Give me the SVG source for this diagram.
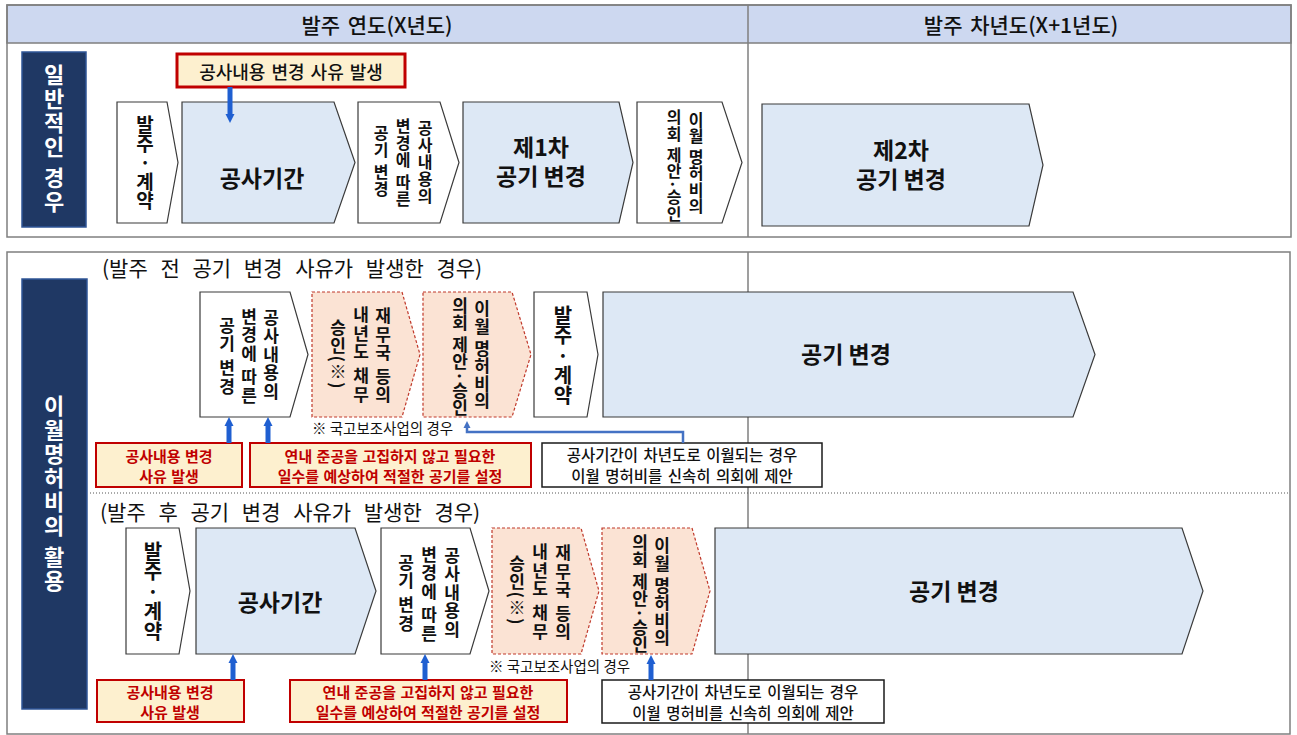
<svg xmlns="http://www.w3.org/2000/svg" width="1297" height="735" viewBox="0 0 1297 735">
<defs>
<style>
.t{font-family:'Noto Sans CJK KR','Noto Sans',sans-serif;fill:#111}
.v{writing-mode:vertical-rl;text-anchor:middle;font-weight:700}
.u{text-orientation:upright}
.c{text-anchor:middle;dominant-baseline:central}
.m{text-anchor:middle}
.frame{fill:none;stroke:#7f7f7f;stroke-width:1.5}
.hdr{fill:#cdd8f0;stroke:#7f7f7f;stroke-width:1.5}
.navy{fill:#1f3864;stroke:#2f5597;stroke-width:1.5}
.cw{fill:#fff;stroke:#3a3a3a;stroke-width:1.2}
.cb{fill:#dde8f5;stroke:#3a3a3a;stroke-width:1.2}
.cp{fill:#fbe3d4;stroke:#c0392b;stroke-width:1.2;stroke-dasharray:3 2}
.rbox{fill:#fdf0cf;stroke:#c00000;stroke-width:2}
.kbox{fill:#fff;stroke:#1a1a1a;stroke-width:1.5}
.rt{fill:#c00000;font-weight:700;font-size:15px;word-spacing:1px}
.kt{font-size:15.5px;font-weight:500;word-spacing:2px}
.wl{fill:#fff;font-weight:700;font-size:22px}
.big{font-weight:700;font-size:23px}
.note{font-size:14.5px}
.arrow{stroke:#1f5fd1;stroke-width:5;fill:none}
.thin{stroke:#4472c4;stroke-width:2.5;fill:none}
</style>
<marker id="ah" viewBox="0 0 10 10" refX="0" refY="5" markerUnits="userSpaceOnUse" markerWidth="9" markerHeight="12" orient="auto">
<path d="M0,0 L10,5 L0,10 z" fill="#1f5fd1"/>
</marker>
<marker id="ahs" viewBox="0 0 10 10" refX="0" refY="5" markerUnits="userSpaceOnUse" markerWidth="7" markerHeight="9" orient="auto">
<path d="M0,0 L10,5 L0,10 z" fill="#4472c4"/>
</marker>
</defs>
<rect width="1297" height="735" fill="#fff"/>

<!-- top section frame -->
<g id="frame-top">
<rect class="hdr" x="7" y="5" width="1284" height="38"/>
<rect class="frame" x="7" y="5" width="1284" height="232"/>
<line class="frame" x1="748" y1="5" x2="748" y2="237"/>
<text class="t c" x="377" y="24" font-size="21" font-weight="500" word-spacing="3">발주 연도(X년도)</text>
<text class="t c" x="1021" y="24" font-size="21" font-weight="500" word-spacing="3">발주 차년도(X+1년도)</text>
</g>

<!-- bottom section frame -->
<g id="frame-bottom">
<rect class="frame" x="7" y="252" width="1283" height="482"/>
<line class="frame" x1="748" y1="252" x2="748" y2="734"/>
<line x1="90" y1="493" x2="1289" y2="493" stroke="#555" stroke-width="1" stroke-dasharray="1 2"/>
<text class="t" x="102" y="276" font-size="21" word-spacing="8">(발주 전 공기 변경 사유가 발생한 경우)</text>
<text class="t" x="100" y="520" font-size="21" word-spacing="8">(발주 후 공기 변경 사유가 발생한 경우)</text>
</g>

<!-- side labels -->
<g id="label-general">
<rect class="navy" x="22" y="52" width="64" height="175"/>
<text class="t v wl" x="54" y="139" letter-spacing="2">일반적인 경우</text>
</g>
<g id="label-carryover">
<rect class="navy" x="22" y="279" width="65" height="430"/>
<text class="t v wl" x="54" y="494" letter-spacing="2">이월명허비의 활용</text>
</g>

<!-- ===== Row 1: general case ===== -->
<g id="r1-cause">
<rect x="177" y="54" width="228" height="33" fill="#fdf0cf" stroke="#c00000" stroke-width="3"/>
<text class="t c" x="291" y="71" font-size="18" font-weight="500" word-spacing="2">공사내용 변경 사유 발생</text>
</g>
<g id="r1-order">
<polygon class="cw" points="117,102 167,102 178,162.5 167,223 117,223"/>
<text class="t v" x="145" y="163" font-size="19">발주<tspan class="u">·</tspan>계약</text>
</g>
<g id="r1-period">
<polygon class="cb" points="182,102 334,102 355,162.5 334,223 182,223"/>
<text class="t c big" x="262" y="177" font-size="22">공사기간</text>
</g>
<g id="r1-change-by-content">
<polygon class="cw" points="358,102 440,102 459,162.5 440,223 358,223"/>
<text class="t v" font-size="16" letter-spacing="1"><tspan x="425" y="162">공사내용의</tspan><tspan x="403" y="163">변경에 따른</tspan><tspan x="381" y="161">공기 변경</tspan></text>
</g>
<g id="r1-first-change">
<polygon class="cb" points="463,102 619,102 633,162.5 619,223 463,223"/>
<text class="t m big" x="541" y="156" font-size="19">제1차</text>
<text class="t m big" x="541" y="185" font-size="19">공기 변경</text>
</g>
<g id="r1-council">
<polygon class="cw" points="637,102 722,102 742,162.5 722,223 637,223"/>
<text class="t v" font-size="16" letter-spacing="0.5"><tspan x="696" y="163">이월 명허비의</tspan><tspan x="674" y="166">의회 제안·승인</tspan></text>
</g>
<g id="r1-second-change">
<polygon class="cb" points="762,104 1029,104 1043,165 1029,226 762,226"/>
<text class="t m big" x="901" y="159" font-size="19">제2차</text>
<text class="t m big" x="901" y="188" font-size="19">공기 변경</text>
</g>

<!-- ===== Row 2: before order ===== -->
<g id="r2-change-by-content">
<polygon class="cw" points="200,292 290,292 308,354.5 290,417 200,417"/>
<text class="t v" font-size="17" letter-spacing="1.5"><tspan x="271" y="355">공사내용의</tspan><tspan x="249" y="356">변경에 따른</tspan><tspan x="227" y="357">공기 변경</tspan></text>
</g>
<g id="r2-debt-approval">
<polygon class="cp" points="312,292 402,292 420,354.5 402,417 312,417"/>
<text class="t v" font-size="17" letter-spacing="1.5"><tspan x="383" y="356">재무국 등의</tspan><tspan x="361" y="355">내년도 채무</tspan><tspan x="338" y="354">승인(※)</tspan></text>
</g>
<g id="r2-council">
<polygon class="cp" points="423,292 512,292 531,354.5 512,417 423,417"/>
<text class="t v" font-size="17" letter-spacing="0.5"><tspan x="482" y="355">이월 명허비의</tspan><tspan x="460" y="357">의회 제안·승인</tspan></text>
</g>
<g id="r2-order">
<polygon class="cw" points="534,292 587,292 598,354.5 587,417 534,417"/>
<text class="t v" x="563" y="355" font-size="20">발주<tspan class="u">·</tspan>계약</text>
</g>
<g id="r2-change">
<polygon class="cb" points="603,292 1073,292 1095,354.5 1073,417 603,417"/>
<text class="t c big" x="846" y="353">공기 변경</text>
</g>
<g id="r2-note">
<text class="t note" x="312" y="434">※ 국고보조사업의 경우</text>
</g>
<g id="r2-cause">
<rect class="rbox" x="96" y="443" width="146" height="44"/>
<text class="t c rt"><tspan x="169" y="455">공사내용 변경</tspan><tspan x="169" y="475">사유 발생</tspan></text>
</g>
<g id="r2-setting">
<rect class="rbox" x="250" y="443" width="281" height="44"/>
<text class="t c rt"><tspan x="390" y="455">연내 준공을 고집하지 않고 필요한</tspan><tspan x="390" y="475">일수를 예상하여 적절한 공기를 설정</tspan></text>
</g>
<g id="r2-carry-note">
<rect class="kbox" x="542" y="443" width="280" height="44"/>
<text class="t c kt"><tspan x="682" y="454">공사기간이 차년도로 이월되는 경우</tspan><tspan x="682" y="475">이월 명허비를 신속히 의회에 제안</tspan></text>
</g>

<!-- ===== Row 3: after order ===== -->
<g id="r3-order">
<polygon class="cw" points="126,528 179,528 190,591 179,654 126,654"/>
<text class="t v" x="153" y="591" font-size="20">발주<tspan class="u">·</tspan>계약</text>
</g>
<g id="r3-period">
<polygon class="cb" points="196,528 355,528 376,591 355,654 196,654"/>
<text class="t c big" x="280" y="601" font-size="23">공사기간</text>
</g>
<g id="r3-change-by-content">
<polygon class="cw" points="381,528 470,528 489,591 470,654 381,654"/>
<text class="t v" font-size="17" letter-spacing="1.5"><tspan x="452" y="593">공사내용의</tspan><tspan x="429" y="594">변경에 따른</tspan><tspan x="406" y="594">공기 변경</tspan></text>
</g>
<g id="r3-debt-approval">
<polygon class="cp" points="492,528 581,528 599,591 581,654 492,654"/>
<text class="t v" font-size="17" letter-spacing="1.5"><tspan x="563" y="593">재무국 등의</tspan><tspan x="540" y="592">내년도 채무</tspan><tspan x="517" y="590">승인(※)</tspan></text>
</g>
<g id="r3-council">
<polygon class="cp" points="602,528 692,528 710,591 692,654 602,654"/>
<text class="t v" font-size="17" letter-spacing="0.5"><tspan x="662" y="592">이월 명허비의</tspan><tspan x="640" y="594">의회 제안·승인</tspan></text>
</g>
<g id="r3-change">
<polygon class="cb" points="715,528 1182,528 1203,591 1182,654 715,654"/>
<text class="t c big" x="954" y="590">공기 변경</text>
</g>
<g id="r3-note">
<text class="t note" x="489" y="672">※ 국고보조사업의 경우</text>
</g>
<g id="r3-cause">
<rect class="rbox" x="97" y="680" width="147" height="42"/>
<text class="t c rt"><tspan x="170" y="691">공사내용 변경</tspan><tspan x="170" y="711">사유 발생</tspan></text>
</g>
<g id="r3-setting">
<rect class="rbox" x="290" y="680" width="277" height="42"/>
<text class="t c rt"><tspan x="428" y="691">연내 준공을 고집하지 않고 필요한</tspan><tspan x="428" y="711">일수를 예상하여 적절한 공기를 설정</tspan></text>
</g>
<g id="r3-carry-note">
<rect class="kbox" x="602" y="680" width="282" height="43"/>
<text class="t c kt"><tspan x="743" y="691">공사기간이 차년도로 이월되는 경우</tspan><tspan x="743" y="712">이월 명허비를 신속히 의회에 제안</tspan></text>
</g>

<!-- connectors -->
<g id="connectors">
<path class="arrow" d="M230,87 V114" marker-end="url(#ah)"/>
<path class="arrow" d="M229,443 V426" marker-end="url(#ah)"/>
<path class="arrow" d="M268,443 V426" marker-end="url(#ah)"/>
<path class="thin" d="M683,443 V432 H467 V428" marker-end="url(#ahs)"/>
<path class="arrow" d="M233,680 V663" marker-end="url(#ah)"/>
<path class="arrow" d="M425,680 V663" marker-end="url(#ah)"/>
<path class="arrow" d="M651,680 V664" marker-end="url(#ah)"/>
</g>
</svg>
